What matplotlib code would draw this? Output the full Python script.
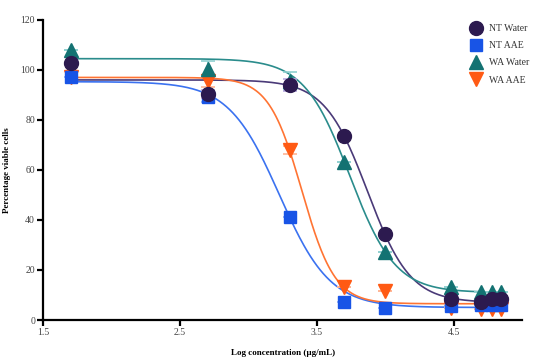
import numpy as np
import matplotlib
matplotlib.use("Agg")
import matplotlib.pyplot as plt

# Data
log_conc = [1.7, 2.7, 3.3, 3.7, 4.0, 4.48, 4.7, 4.78, 4.85]
series_names = ["NT Water", "NT AAE", "WA Water", "WA AAE"]
nt_water = [102.7, 90.3, 94.0, 73.5, 34.3, 8.3, 7.3, 8.3, 8.3]
nt_aae = [97.3, 89.0, 41.0, 7.3, 5.0, 5.6, 6.0, 6.0, 6.0]
wa_water = [108.0, 100.4, 95.5, 63.0, 27.0, 13.2, 11.0, 11.0, 11.0]
wa_aae = [97.0, 95.6, 68.0, 13.0, 11.6, 5.0, 4.4, 4.4, 4.4]
nt_water_err = [0, 1.5, 2.5, 0, 0, 0, 0, 0, 0]
nt_aae_err = [0, 2.0, 0, 0, 0, 0, 0, 0, 0]
wa_water_err = [0, 3.0, 3.5, 0, 0, 0, 0, 0, 0]
wa_aae_err = [0, 2.5, 1.5, 0, 0, 0, 0, 0, 0]
# 4PL fit parameters: top, bottom, logIC50, hill
nt_water_fit = [96.0, 7.0, 3.87, 2.77]
nt_aae_fit = [95.3, 5.0, 3.225, 2.34]
wa_water_fit = [104.5, 11.0, 3.74, 2.61]
wa_aae_fit = [97.0, 6.5, 3.39, 3.6]

x_ticks = [1.5, 2.5, 3.5, 4.5]
y_ticks = [0, 20, 40, 60, 80, 100, 120]

def fourpl(x, p):
    top, bottom, c, h = p
    return bottom + (top - bottom) / (1 + 10 ** ((x - c) * h))

plt.rcParams['font.family'] = ['Liberation Serif', 'DejaVu Serif']

fig = plt.figure(figsize=(5.5, 3.62), dpi=100)
ax = fig.add_axes([0.079, 0.116, 0.870, 0.829])

styles = {
    "NT Water": dict(marker='o', color='#2c1a4f', line='#4a3a78', err='#b8a8e0', ms=10),
    "NT AAE": dict(marker='s', color='#1854e6', line='#3b72f0', err='#9fb8f5', ms=9),
    "WA Water": dict(marker='^', color='#137272', line='#2a8c8c', err='#8fd0d0', ms=10),
    "WA AAE": dict(marker='v', color='#ff5a14', line='#ff7433', err='#ffb494', ms=10),
}
data = {
    "NT Water": (nt_water, nt_water_err, nt_water_fit),
    "NT AAE": (nt_aae, nt_aae_err, nt_aae_fit),
    "WA Water": (wa_water, wa_water_err, wa_water_fit),
    "WA AAE": (wa_aae, wa_aae_err, wa_aae_fit),
}

xs = np.linspace(1.7, 4.85, 400)
for name in series_names:
    st = styles[name]
    ax.plot(xs, fourpl(xs, data[name][2]), color=st['line'], lw=1.2, zorder=2)

order = ["WA AAE", "NT AAE", "WA Water", "NT Water"]
handles = {}
for i, name in enumerate(order):
    st = styles[name]
    y, e, _ = data[name]
    ax.errorbar(log_conc, y, yerr=e, fmt='none', ecolor=st['err'], elinewidth=1.2,
                capsize=5, capthick=1.2, zorder=3 + i)
    h, = ax.plot(log_conc, y, linestyle='none', marker=st['marker'], color=st['color'],
                 markersize=st['ms'], zorder=5 + i)
    handles[name] = h

ax.set_xlim(1.5, 5.0)
ax.set_ylim(0, 120)
ax.set_xticks(x_ticks)
ax.set_xticklabels([str(t) for t in x_ticks])
ax.set_yticks(y_ticks)
for s in ['top', 'right']:
    ax.spines[s].set_visible(False)
for s in ['left', 'bottom']:
    ax.spines[s].set_linewidth(1.6)
ax.tick_params(axis='both', width=1.6, length=4, labelsize=7, colors='black',
               labelcolor='#444444', pad=2)
ax.set_xlabel("Log concentration (µg/mL)", fontsize=6.5, fontweight='bold')
ax.set_ylabel("Percentage viable cells", fontsize=6.5, fontweight='bold')
ax.yaxis.set_label_coords(-0.068, 0.5)
ax.xaxis.set_label_coords(0.5, -0.095)

leg = fig.legend([handles[n] for n in series_names], series_names,
                 loc='upper left', bbox_to_anchor=(0.84, 0.958), frameon=False,
                 fontsize=7, handletextpad=0.9, labelspacing=0.85, markerscale=1.0,
                 handlelength=1.0)
for t in leg.get_texts():
    t.set_color('#333333')

fig.savefig("out.png", dpi=100)
